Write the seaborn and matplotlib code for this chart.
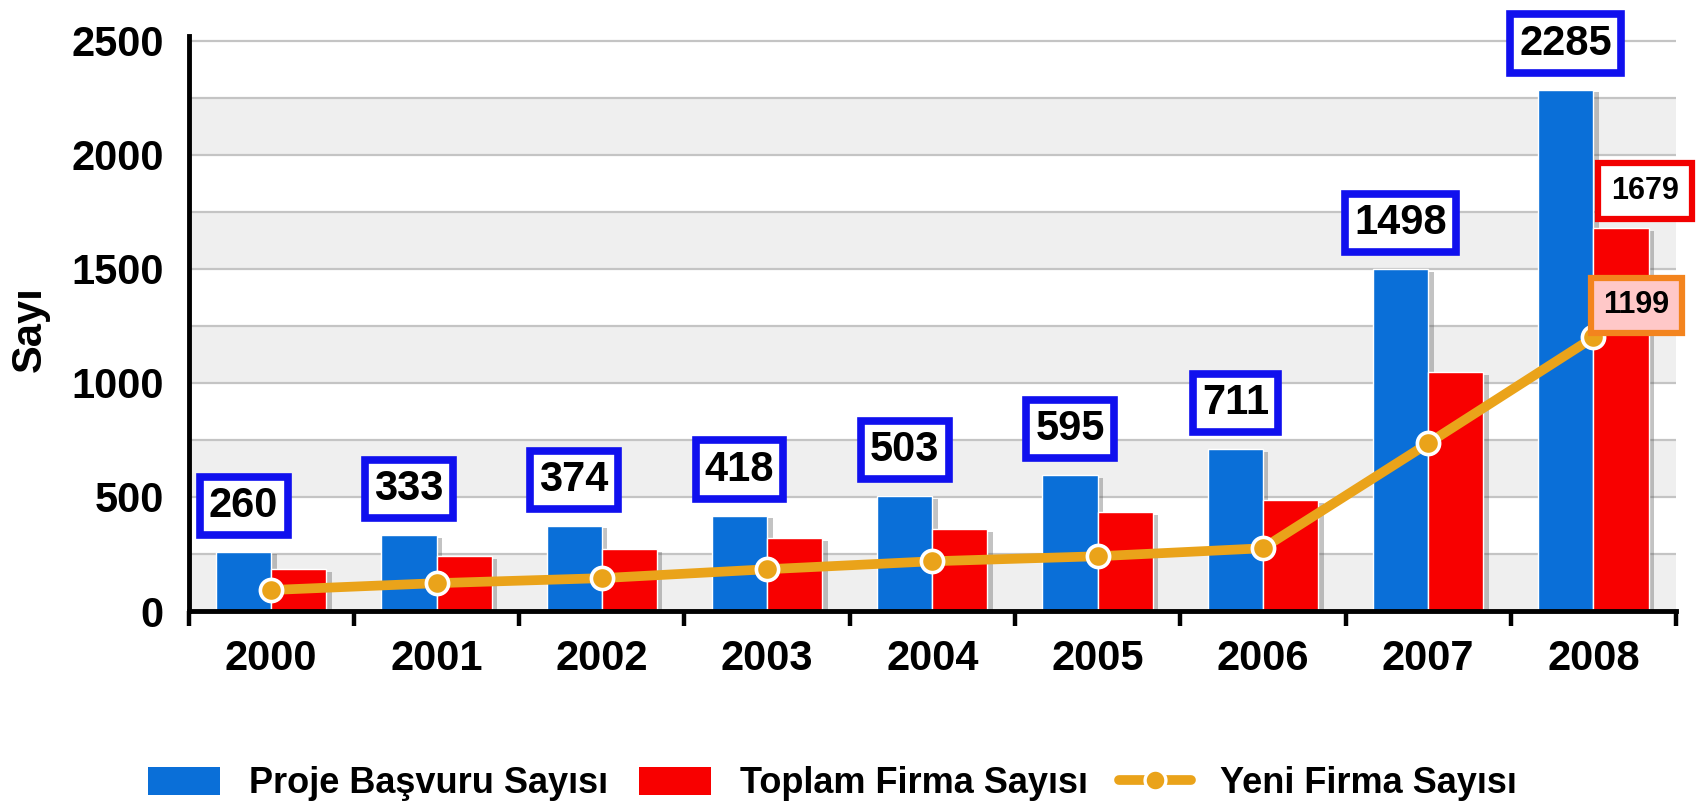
import matplotlib
matplotlib.use("Agg")
import matplotlib.pyplot as plt
import matplotlib.patheffects as pe
from matplotlib.patches import Patch
from matplotlib.lines import Line2D
import numpy as np
import pandas as pd
import seaborn as sns

# data
years = ["2000", "2001", "2002", "2003", "2004", "2005", "2006", "2007", "2008"]
proje = [260, 333, 374, 418, 503, 595, 711, 1498, 2285]
toplam = [183, 240, 271, 319, 358, 432, 485, 1048, 1679]
yeni = [92, 122, 144, 183, 218, 240, 275, 735, 1199]
series_names = ["Proje Başvuru Sayısı", "Toplam Firma Sayısı", "Yeni Firma Sayısı"]
y_ticks = [0, 500, 1000, 1500, 2000, 2500]

BLUE = "#0a6fd8"
RED = "#f80000"
ORANGE = "#eaa31a"

sns.set_theme(style="white")
plt.rcParams["font.family"] = ["Liberation Sans", "DejaVu Sans"]
plt.rcParams["font.weight"] = "bold"
for k in ["text.color", "axes.labelcolor", "xtick.color", "ytick.color"]:
    plt.rcParams[k] = "black"

df = pd.DataFrame({"Yıl": years, series_names[0]: proje, series_names[1]: toplam})
long = df.melt(id_vars="Yıl", var_name="Seri", value_name="Sayı")

fig = plt.figure(figsize=(16.99, 8.08), dpi=100)
ax = fig.add_axes([0.111, 0.2438, 0.8755, 0.7116])

sns.barplot(data=long, x="Yıl", y="Sayı", hue="Seri", palette=[BLUE, RED],
            width=0.667, gap=0, saturation=1, legend=False, ax=ax, zorder=2)
for cont in ax.containers:
    for bar in cont:
        bar.set_path_effects([pe.SimplePatchShadow(offset=(4, -2), shadow_rgbFace="#555555", alpha=0.35),
                              pe.Normal()])

sns.pointplot(x=years, y=yeni, color=ORANGE, markers="o", markersize=16,
              linewidth=7, errorbar=None, ax=ax, zorder=4,
              markeredgecolor="white", markeredgewidth=2.6)

ax.set_xlim(-0.5, 8.5)
ax.set_ylim(0, 2520)

# alternating bands + grid
for lo in range(0, 2500, 500):
    ax.axhspan(lo, lo + 250, color="#efefef", zorder=0, lw=0)
for g in range(250, 2501, 250):
    ax.axhline(g, color="#c4c4c4", lw=1.6, zorder=0.5)

ax.set_yticks(y_ticks)
ax.tick_params(axis="y", length=14, width=3.2, pad=4, labelsize=30)
ax.set_xticks(range(len(years)))
ax.set_xticklabels(years)
ax.set_xticks(np.arange(-0.5, len(years), 1.0), minor=True)
ax.tick_params(axis="x", which="major", length=0, pad=20, labelsize=30)
ax.tick_params(axis="x", which="minor", length=11, width=3.2, bottom=True, direction="out")
for lab in ax.get_xticklabels() + ax.get_yticklabels():
    lab.set_fontweight("bold")

for s in ["top", "right"]:
    ax.spines[s].set_visible(False)
for s in ["left", "bottom"]:
    ax.spines[s].set_color("black")
    ax.spines[s].set_linewidth(3.5)
    ax.spines[s].set_zorder(6)

ax.set_xlabel("")
ax.set_ylabel("Sayı", fontsize=30, fontweight="bold")
ax.yaxis.set_label_coords(-0.0935, 0.49)

# value boxes
for i, v in enumerate(proje):
    ax.annotate(str(v), xy=(i - 0.1667, v), xytext=(0, 26), textcoords="offset pixels",
                ha="center", va="bottom", fontsize=30, fontweight="bold", zorder=7,
                annotation_clip=False,
                bbox=dict(boxstyle="square,pad=0.22", fc="white", ec="#1010ee", lw=5.5))

ax.annotate(str(toplam[-1]), xy=(len(years) - 1 + 0.1667, toplam[-1]), xytext=(24, 22),
            textcoords="offset pixels", ha="center", va="bottom", fontsize=22,
            fontweight="bold", zorder=7, annotation_clip=False,
            bbox=dict(boxstyle="square,pad=0.42", fc="white", ec="#f20000", lw=4.5))
ax.annotate(str(yeni[-1]), xy=(len(years) - 1, yeni[-1]), xytext=(43, 17),
            textcoords="offset pixels", ha="center", va="bottom", fontsize=22,
            fontweight="bold", zorder=7, annotation_clip=False,
            bbox=dict(boxstyle="square,pad=0.42", fc="#ffc8c8", ec="#f3841e", lw=4.5))

handles = [Patch(facecolor=BLUE, edgecolor="none"),
           Patch(facecolor=RED, edgecolor="none"),
           Line2D([], [], color=ORANGE, lw=7, marker="o", markersize=15,
                  markeredgecolor="white", markeredgewidth=2.4)]
fig.legend(handles, series_names, loc="center", bbox_to_anchor=(0.49, 0.03), ncol=3,
           frameon=False, prop={"size": 26, "weight": "bold"}, handlelength=2.0,
           handleheight=0.8, handletextpad=0.8, columnspacing=0.85)

fig.savefig("out.png", dpi=100)
